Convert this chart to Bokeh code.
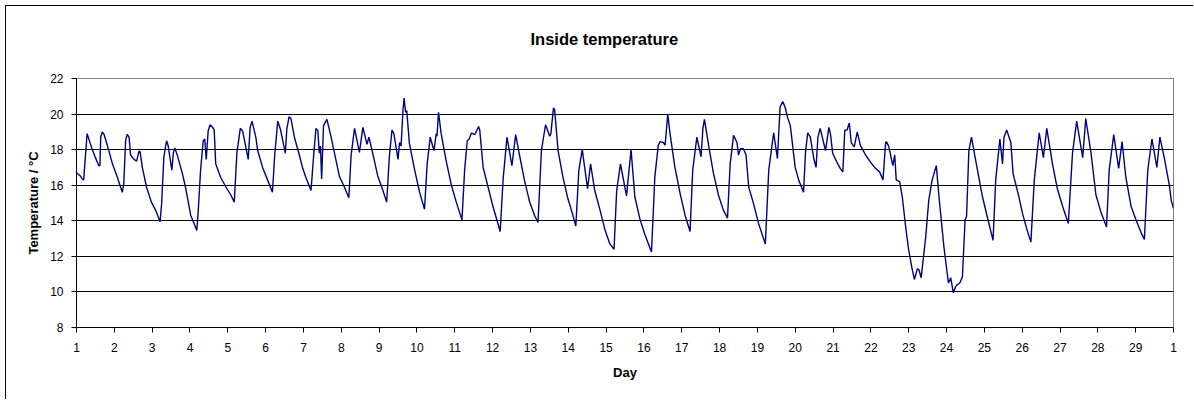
from bokeh.plotting import figure
from bokeh.models import FixedTicker, Range1d, Title
from bokeh.embed import file_html
from bokeh.resources import INLINE

# Day of month (fractional) and inside temperature (°C)
days = [
    1.00, 1.11, 1.15, 1.19, 1.28, 1.41, 1.50, 1.59, 1.62, 1.64, 1.68, 1.73, 1.86, 1.95, 2.08, 2.21,
    2.25, 2.30, 2.34, 2.39, 2.43, 2.52, 2.59, 2.65, 2.68, 2.74, 2.85, 2.98, 3.09, 3.21,
    3.25, 3.31, 3.38, 3.42, 3.52, 3.56, 3.60, 3.67, 3.80, 3.89, 4.02, 4.09, 4.18,
    4.22, 4.28, 4.35, 4.39, 4.43, 4.48, 4.53, 4.60, 4.64, 4.68, 4.81, 4.95, 5.08, 5.17,
    5.24, 5.33, 5.39, 5.48, 5.54, 5.59, 5.64, 5.74, 5.79, 5.92, 6.05, 6.18,
    6.24, 6.32, 6.39, 6.52, 6.56, 6.62, 6.67, 6.76, 6.89, 6.98, 7.07, 7.20,
    7.27, 7.33, 7.38, 7.42, 7.45, 7.48, 7.53, 7.62, 7.73, 7.86, 7.95, 8.08, 8.20,
    8.26, 8.35, 8.48, 8.57, 8.68, 8.73, 8.83, 8.96, 9.10, 9.20,
    9.27, 9.34, 9.39, 9.50, 9.54, 9.58, 9.63, 9.66, 9.70, 9.73, 9.80, 9.94, 10.07, 10.20,
    10.27, 10.35, 10.45, 10.51, 10.53, 10.57, 10.64, 10.77, 10.91, 11.04, 11.19,
    11.26, 11.33, 11.38, 11.44, 11.53, 11.63, 11.66, 11.75, 11.88, 12.01, 12.14, 12.20,
    12.28, 12.38, 12.51, 12.61, 12.72, 12.85, 12.98, 13.11, 13.20,
    13.29, 13.40, 13.51, 13.54, 13.61, 13.64, 13.73, 13.86, 13.99, 14.11, 14.20,
    14.28, 14.37, 14.51, 14.59, 14.70, 14.84, 14.97, 15.10, 15.21,
    15.28, 15.38, 15.54, 15.66, 15.76, 15.90, 16.03, 16.20,
    16.29, 16.38, 16.43, 16.51, 16.56, 16.63, 16.69, 16.82, 16.96, 17.09, 17.22,
    17.29, 17.40, 17.51, 17.56, 17.60, 17.71, 17.84, 17.97, 18.10, 18.21,
    18.28, 18.37, 18.46, 18.50, 18.55, 18.63, 18.70, 18.77, 18.90, 19.03, 19.21,
    19.30, 19.43, 19.53, 19.60, 19.67, 19.73, 19.80, 19.87, 20.00, 20.09, 20.22,
    20.27, 20.33, 20.40, 20.49, 20.55, 20.60, 20.66, 20.80, 20.89, 20.93, 20.99, 21.10, 21.19, 21.26,
    21.31, 21.37, 21.43, 21.48, 21.56, 21.64, 21.72, 21.86, 21.99, 22.12, 22.23, 22.32,
    22.39, 22.41, 22.47, 22.58, 22.63, 22.67, 22.76, 22.83, 22.92, 23.00, 23.09, 23.15,
    23.23, 23.27, 23.33, 23.45, 23.53, 23.62, 23.73, 23.80, 23.93, 24.05, 24.11, 24.18,
    24.24, 24.28, 24.35, 24.42, 24.49, 24.53, 24.59, 24.66, 24.77, 24.95, 25.08, 25.23,
    25.30, 25.41, 25.48, 25.52, 25.59, 25.70, 25.76, 25.80, 25.89, 26.01, 26.12, 26.23,
    26.32, 26.45, 26.56, 26.65, 26.80, 26.93, 27.07, 27.22,
    27.33, 27.44, 27.60, 27.68, 27.82, 27.95, 28.08, 28.23,
    28.30, 28.42, 28.55, 28.64, 28.74, 28.88, 29.01, 29.14, 29.23,
    29.32, 29.43, 29.56, 29.64, 29.76, 29.89, 29.94, 30.00,
]
temps = [
    16.7, 16.5, 16.35, 16.3, 18.9, 18.05, 17.55, 17.1, 17.1, 18.7, 19.0, 18.85, 17.9, 17.2, 16.45, 15.6,
    16.1, 18.55, 18.85, 18.7, 17.7, 17.45, 17.35, 17.9, 17.9, 17.0, 15.9, 15.05, 14.6, 13.95,
    14.95, 17.6, 18.5, 18.25, 16.85, 17.8, 18.1, 17.65, 16.65, 15.8, 14.3, 13.95, 13.45,
    14.6, 16.85, 18.5, 18.6, 17.45, 19.05, 19.4, 19.25, 19.1, 17.2, 16.45, 15.9, 15.45, 15.05,
    17.8, 19.2, 19.05, 18.1, 17.45, 19.25, 19.6, 18.7, 17.95, 17.0, 16.3, 15.6,
    17.7, 19.6, 19.15, 17.8, 19.15, 19.85, 19.75, 18.7, 17.7, 16.95, 16.4, 15.7,
    17.7, 19.2, 19.05, 17.8, 18.2, 16.35, 19.35, 19.7, 18.7, 17.4, 16.5, 15.9, 15.3,
    17.7, 19.2, 17.85, 19.25, 18.3, 18.7, 17.8, 16.55, 15.7, 15.05,
    17.6, 19.1, 18.9, 17.45, 18.4, 18.2, 20.2, 20.9, 20.1, 20.2, 18.35, 16.85, 15.6, 14.65,
    17.2, 18.7, 17.95, 18.9, 18.75, 20.1, 18.9, 17.4, 16.0, 15.05, 14.05,
    16.85, 18.5, 18.6, 18.93, 18.85, 19.3, 19.1, 17.0, 15.9, 14.8, 13.85, 13.4,
    16.4, 18.7, 17.1, 18.85, 17.6, 16.2, 15.05, 14.3, 13.9,
    17.95, 19.4, 18.75, 18.9, 20.35, 20.25, 17.95, 16.45, 15.25, 14.4, 13.7,
    16.85, 18.0, 15.8, 17.2, 15.7, 14.6, 13.5, 12.7, 12.4,
    15.7, 17.2, 15.4, 18.0, 15.35, 14.05, 13.2, 12.25,
    16.5, 18.25, 18.45, 18.4, 18.25, 20.0, 18.9, 17.0, 15.5, 14.3, 13.4,
    16.85, 18.7, 17.6, 19.2, 19.7, 18.25, 16.65, 15.45, 14.6, 14.15,
    17.2, 18.8, 18.4, 17.7, 18.05, 18.05, 17.7, 15.9, 14.95, 13.85, 12.7,
    16.85, 18.95, 17.5, 20.4, 20.7, 20.4, 19.8, 19.35, 17.0, 16.3, 15.6,
    17.8, 18.95, 18.7, 17.5, 17.0, 18.7, 19.2, 17.95, 19.25, 18.9, 17.8, 17.3, 16.95, 16.75,
    19.1, 19.1, 19.5, 18.4, 18.15, 19.0, 18.25, 17.7, 17.3, 16.95, 16.75, 16.3,
    18.4, 18.45, 18.2, 17.1, 17.7, 16.3, 16.2, 15.35, 13.65, 12.35, 11.3, 10.7,
    11.3, 11.25, 10.8, 13.1, 15.15, 16.3, 17.1, 15.35, 12.55, 10.5, 10.8, 9.95,
    10.3, 10.4, 10.5, 10.85, 14.05, 14.25, 17.95, 18.7, 17.4, 15.35, 14.2, 12.9,
    16.3, 18.6, 17.2, 18.7, 19.1, 18.4, 16.65, 16.3, 15.55, 14.4, 13.55, 12.8,
    16.3, 18.95, 17.55, 19.2, 17.2, 15.8, 14.8, 13.85,
    17.8, 19.6, 17.55, 19.75, 17.8, 15.45, 14.5, 13.65,
    16.85, 18.85, 16.95, 18.45, 16.45, 14.8, 14.05, 13.35, 12.95,
    16.85, 18.6, 17.0, 18.7, 17.5, 16.0, 15.15, 14.7,
]

x_ticks = list(range(1, 31))
x_labels = {t: str(t) for t in range(1, 30)}
x_labels[30] = "1"
y_ticks = [8, 10, 12, 14, 16, 18, 20, 22]
grid_ticks = [10, 12, 14, 16, 18, 20]
title_text = "Inside temperature"

FONT = "Liberation Sans"

p = figure(width=1188, height=394, output_backend="svg", toolbar_location=None,
           x_range=Range1d(1, 30), y_range=Range1d(8, 22),
           min_border_left=70, min_border_right=21, min_border_top=72, min_border_bottom=73,
           background_fill_color="white", border_fill_color="white")

p.styles = {"margin-left": "5px", "margin-top": "5px",
            "border-left": "1px solid black", "border-top": "1px solid black"}

p.line(days, temps, line_color="#000080", line_width=1.4)

# Real title (outer), with a blank spacer title between it and the frame
p.title.text = title_text
p.title.align = "left"
p.title.offset = 454
p.title.text_font = FONT
p.title.text_font_size = "16.5px"
p.title.text_font_style = "bold"
p.title.text_color = "black"
p.add_layout(Title(text=" ", text_font_size="12px", standoff=10), "above")

# Frame outline
p.outline_line_color = "#808080"
p.outline_line_width = 1

# Axes
xa = p.xaxis[0]
xa.ticker = FixedTicker(ticks=x_ticks)
xa.major_label_overrides = x_labels
xa.axis_label = "Day"
ya = p.yaxis[0]
ya.ticker = FixedTicker(ticks=y_ticks)
ya.axis_label = "Temperature / °C"
for ax in (xa, ya):
    ax.axis_line_color = "black"
    ax.axis_line_width = 1
    ax.major_tick_line_color = "black"
    ax.major_tick_in = 0
    ax.major_tick_out = 5
    ax.minor_tick_line_color = None
    ax.major_label_text_font = FONT
    ax.major_label_text_font_size = "12px"
    ax.major_label_text_color = "black"
    ax.axis_label_text_font = FONT
    ax.axis_label_text_font_size = "13px"
    ax.axis_label_text_font_style = "bold"
    ax.axis_label_text_color = "black"

xa.major_label_standoff = 10
xa.axis_label_standoff = 10
ya.major_label_standoff = 8
ya.axis_label_standoff = 6

# Grid
p.xgrid.grid_line_color = None
p.ygrid.ticker = FixedTicker(ticks=grid_ticks)
p.ygrid.grid_line_color = "black"
p.ygrid.grid_line_width = 1

open("out.html", "w").write(file_html(p, INLINE))
